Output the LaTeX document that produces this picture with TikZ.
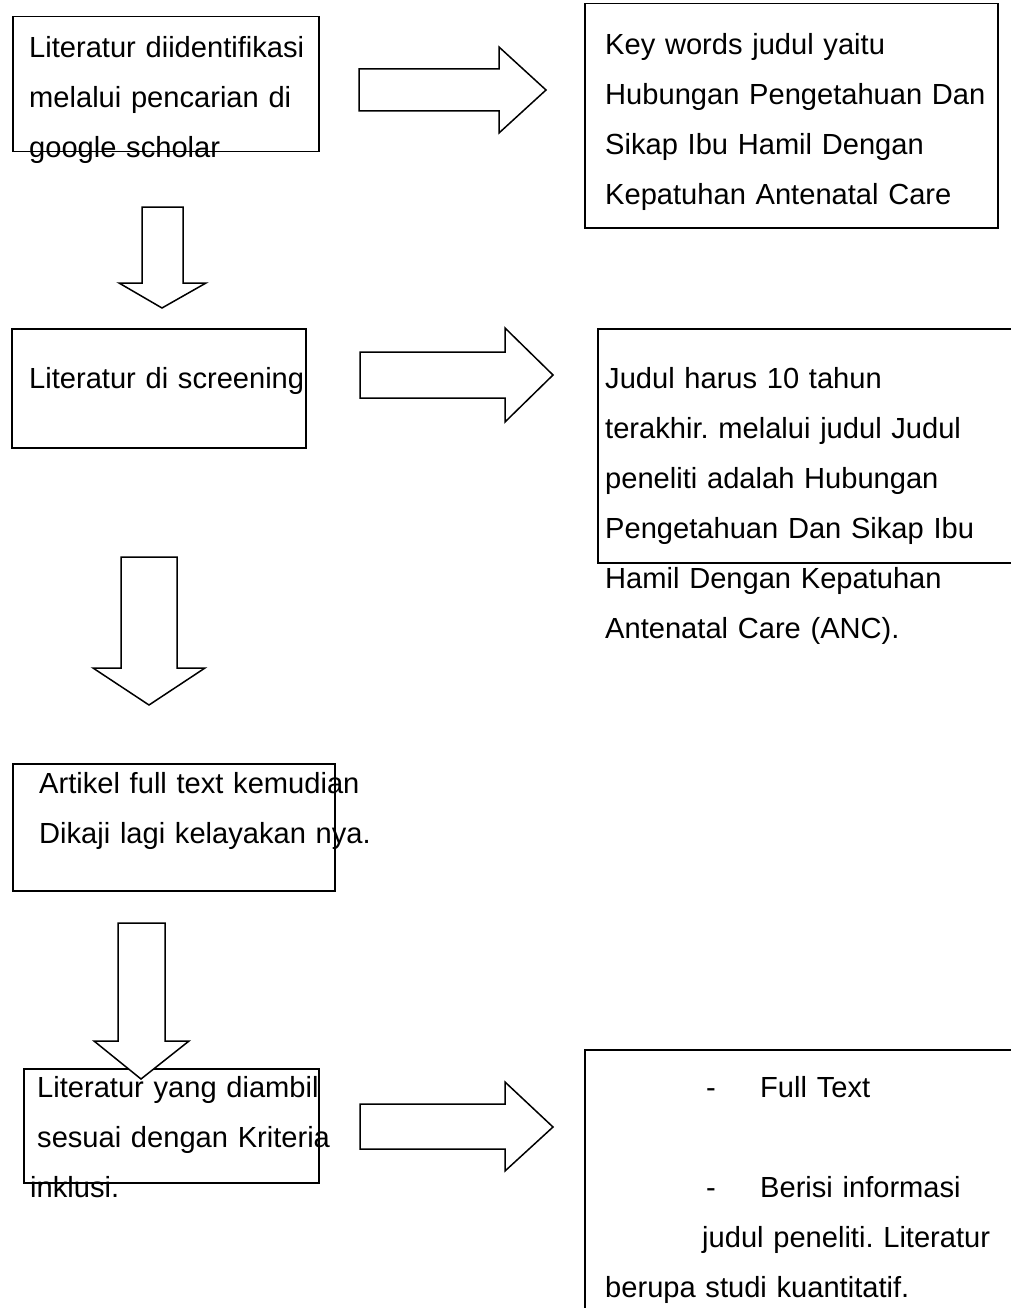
\documentclass[tikz,border=0pt]{standalone}
\usepackage{fontspec}
\setmainfont{Liberation Sans}
\frenchspacing
\tikzset{every picture/.append style={x=1pt, y=1pt}}
\tikzset{
    box/.style={draw, line width=1.5pt, rectangle, inner sep=0pt, anchor=north west},
    txt/.style={anchor=base west, inner sep=0pt, align=left, text width=460pt,
        font=\fontsize{29.1pt}{50pt}\selectfont},
    blockarrow/.style={draw, fill=white, line width=1.5pt, line join=miter}
}

\begin{document}
\begin{tikzpicture}
	\useasboundingbox (0,0) rectangle (1011,-1308);

	% kotak kiri
	\node (cari) [box, minimum width=306pt, minimum height=135pt] at (12,-16) {};
	\node (screen) [box, minimum width=294pt, minimum height=119pt] at (11,-328) {};
	\node (artikel) [box, minimum width=322pt, minimum height=127pt] at (12,-763) {};
	\node (ambil) [box, minimum width=295pt, minimum height=114pt] at (23,-1068) {};

	% kotak kanan
	\node (kunci) [box, minimum width=413pt, minimum height=224pt] at (584,-3) {};
	\node (judul) [box, minimum width=450pt, minimum height=234pt] at (597,-328) {};
	\node (syarat) [box, minimum width=450pt, minimum height=300pt] at (584,-1049) {};

	% teks
	\node (caritxt) [txt] at (29,-58) {Literatur diidentifikasi\\melalui pencarian di\\google scholar};
	\node (screentxt) [txt] at (29,-388) {Literatur di screening};
	\node (artikeltxt) [txt] at (39,-793) {Artikel full text kemudian\\Dikaji lagi kelayakan nya.};
	\node (ambiltxt) [txt] at (37,-1097) {Literatur yang diambil\\sesuai dengan Kriteria\\\hspace*{-7pt}inklusi.};
	\node (kuncitxt) [txt] at (605,-55) {Key words judul yaitu\\Hubungan Pengetahuan Dan\\Sikap Ibu Hamil Dengan\\Kepatuhan Antenatal Care};
	\node (judultxt) [txt] at (605,-388) {Judul harus 10 tahun\\terakhir. melalui judul Judul\\peneliti adalah Hubungan\\Pengetahuan Dan Sikap Ibu\\Hamil Dengan Kepatuhan\\Antenatal Care (ANC).};
	\node (syarattxt) [txt] at (605,-1097) {\hspace*{101pt}\makebox[54pt][l]{-}Full Text\\[50pt]
		\hspace*{101pt}\makebox[54pt][l]{-}Berisi informasi\\
		\hspace*{97pt}judul peneliti. Literatur\\
		berupa studi kuantitatif.};

	% panah ke kanan
	\draw[blockarrow] (359,-69) -- (499,-69) -- (499,-47) -- (546,-90)
		-- (499,-133) -- (499,-111) -- (359,-111) -- cycle;
	\draw[blockarrow] (360,-352) -- (505,-352) -- (505,-328) -- (553,-375)
		-- (505,-422) -- (505,-398) -- (360,-398) -- cycle;
	\draw[blockarrow] (360,-1104) -- (505,-1104) -- (505,-1082) -- (553,-1127)
		-- (505,-1171) -- (505,-1149) -- (360,-1149) -- cycle;

	% panah ke bawah
	\draw[blockarrow] (142,-207) -- (142,-283) -- (119,-283) -- (162,-308)
		-- (206,-283) -- (183,-283) -- (183,-207) -- cycle;
	\draw[blockarrow] (121,-557) -- (121,-668) -- (93,-668) -- (149,-705)
		-- (205,-668) -- (177,-668) -- (177,-557) -- cycle;
	\draw[blockarrow] (118,-923) -- (118,-1041) -- (94,-1041) -- (141,-1079)
		-- (189,-1041) -- (165,-1041) -- (165,-923) -- cycle;
\end{tikzpicture}
\end{document}
